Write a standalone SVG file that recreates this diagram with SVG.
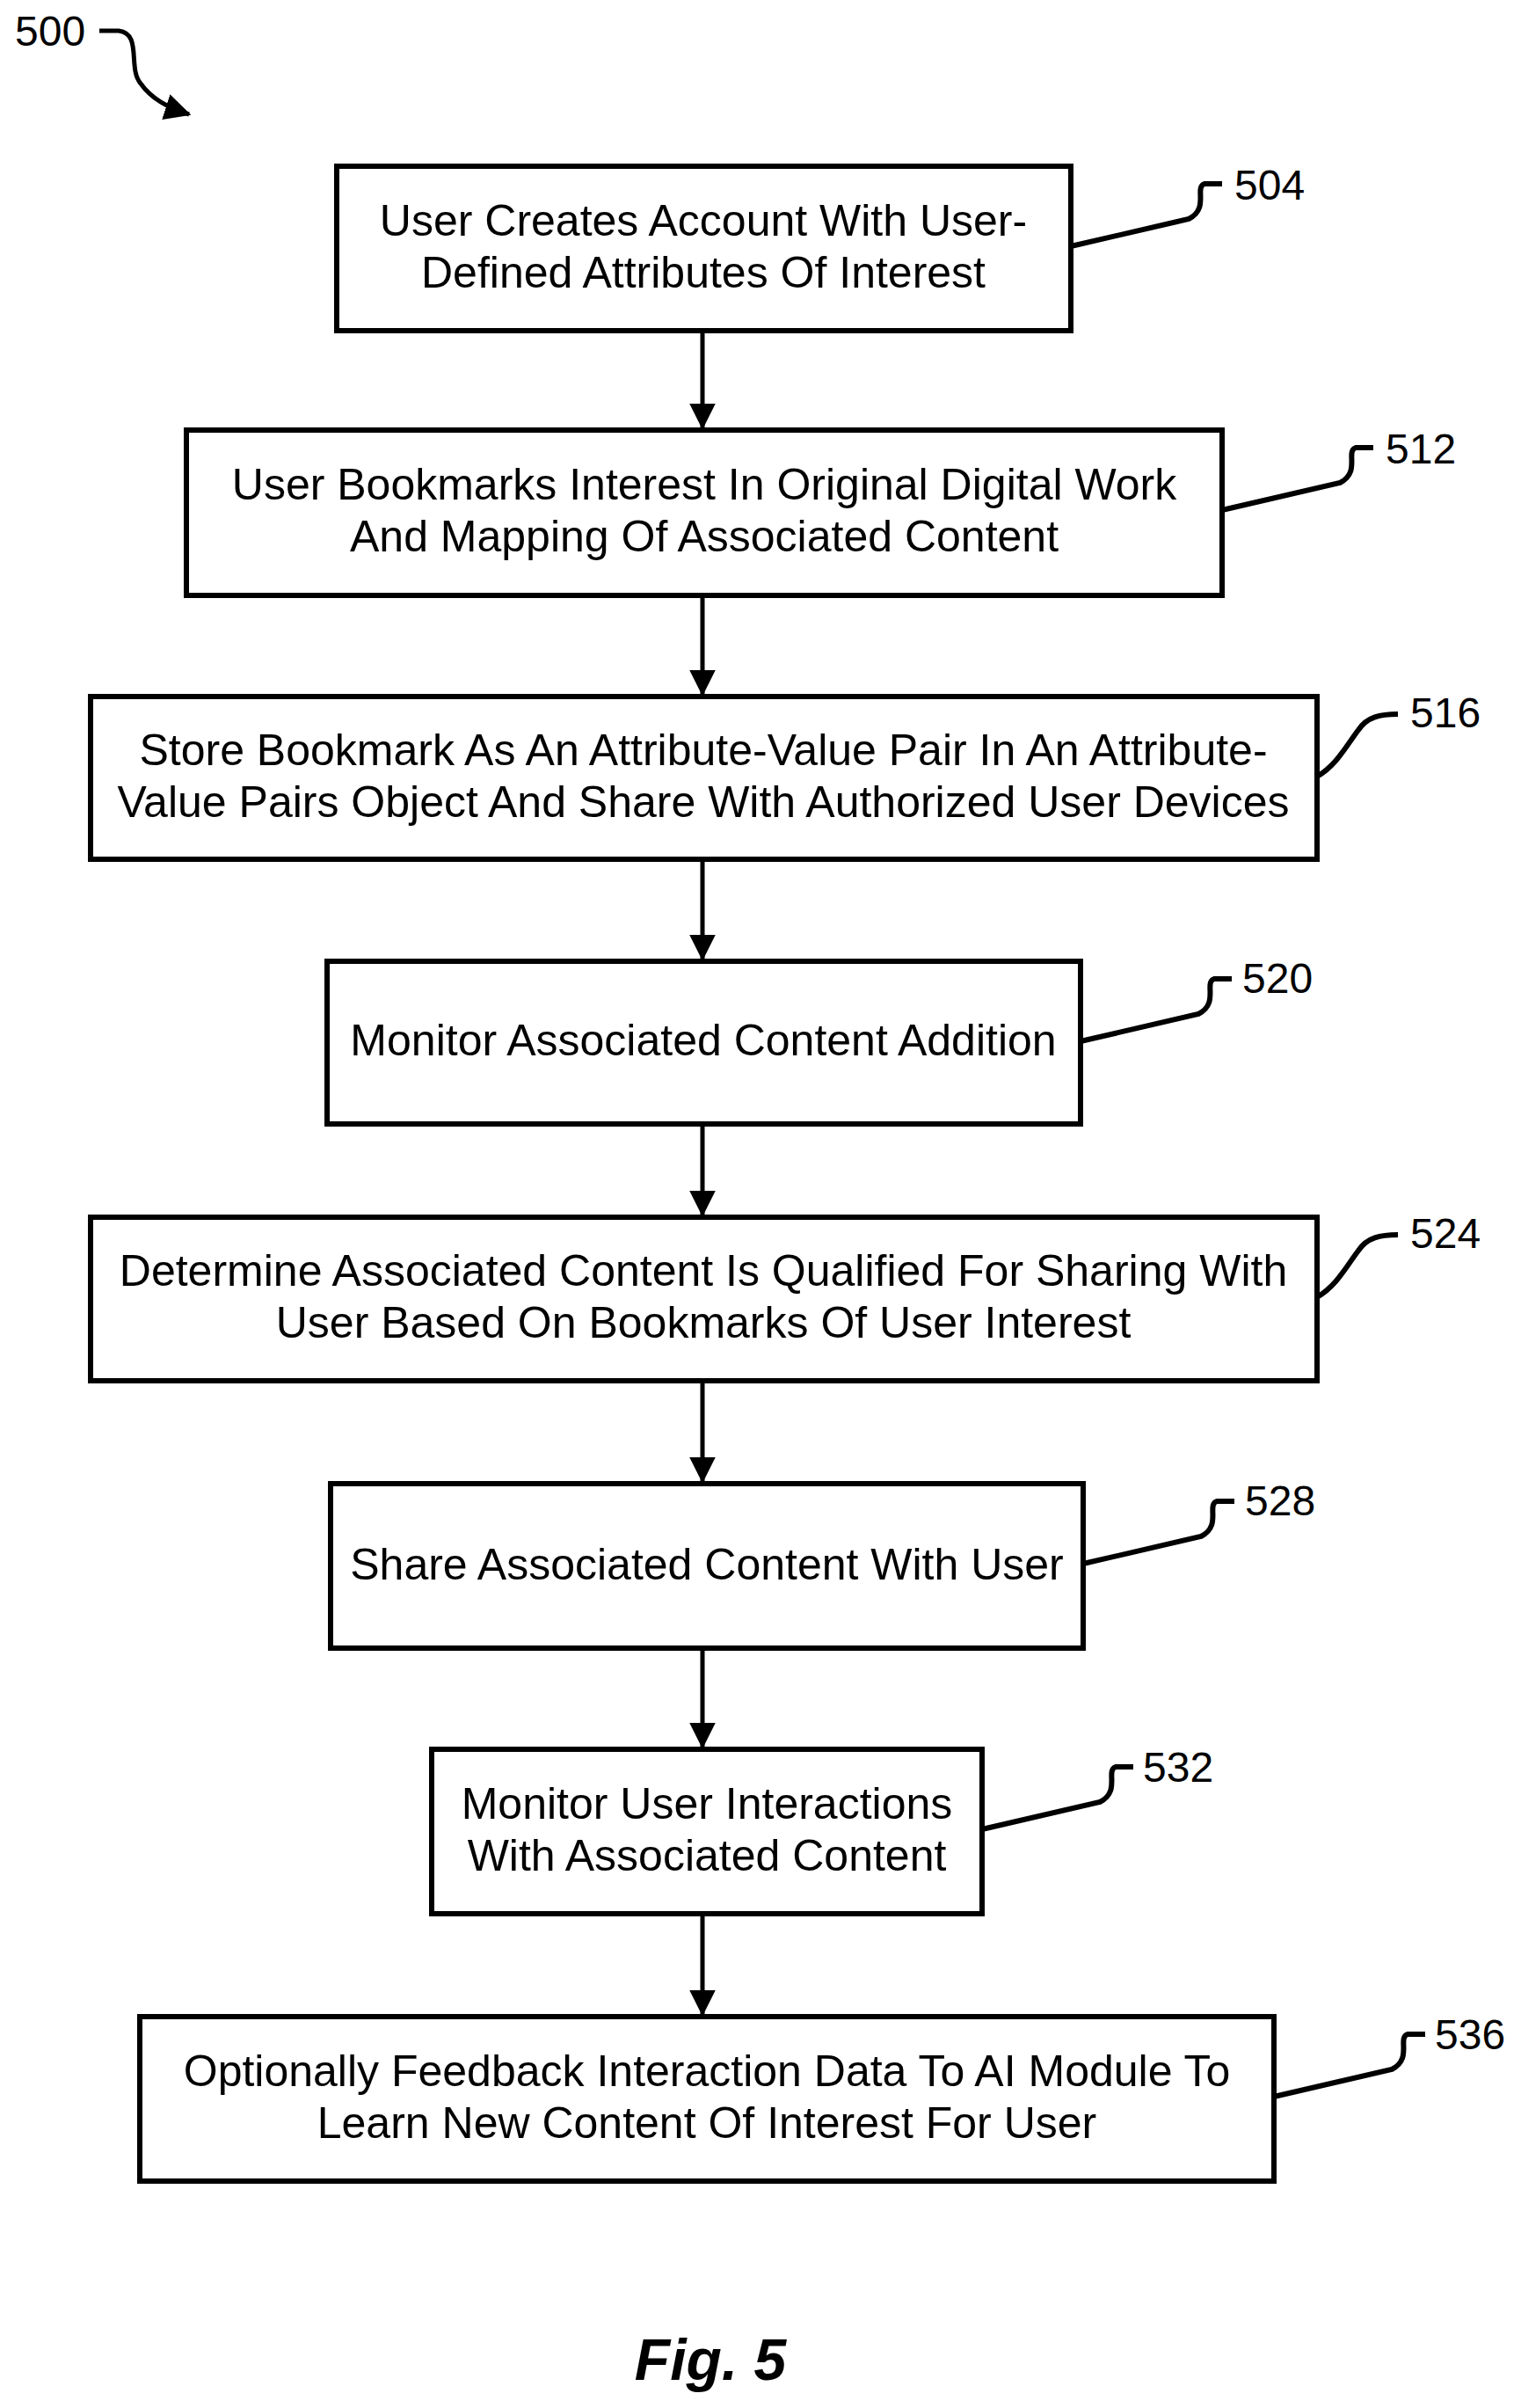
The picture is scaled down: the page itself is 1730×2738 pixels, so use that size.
<svg xmlns="http://www.w3.org/2000/svg" width="1730" height="2738" viewBox="0 0 1730 2738">
<defs>
<style>
rect{fill:#fff;stroke:#000;stroke-width:6}
text{font-family:"Liberation Sans",Arial,sans-serif;font-size:50px;fill:#000}
.n{font-size:48px}
.c{text-anchor:middle}
.l{fill:none;stroke:#000;stroke-width:6}
.a{fill:none;stroke:#000;stroke-width:5;marker-end:url(#ah)}
</style>
<marker id="ah" markerWidth="6" markerHeight="10" refX="5.5" refY="3" orient="auto" markerUnits="strokeWidth" viewBox="0 0 6 6"><path d="M0,0 L6,3 L0,6 z" fill="#000"/></marker>
</defs>
<g id="ref500"><text class="n" x="17" y="52">500</text><path class="a" d="M113,35 L135,35 C162,38 145,78 160,95 C172,112 190,122 215,130"/></g>
<g id="connectors">
<path class="a" d="M799,377 L799,486"/>
<path class="a" d="M799,677 L799,789"/>
<path class="a" d="M799,977 L799,1090"/>
<path class="a" d="M799,1278 L799,1381"/>
<path class="a" d="M799,1570 L799,1684"/>
<path class="a" d="M799,1874 L799,1986"/>
<path class="a" d="M799,2176 L799,2290"/>
</g>
<g id="n504"><rect x="383" y="189" width="835" height="187"/><text class="c" x="800" y="268">User Creates Account With User-</text><text class="c" x="800" y="327">Defined Attributes Of Interest</text><path class="l" d="M1218,280 L1352,249 C1376,237 1358,213 1370,209 L1390,209"/><text class="n" x="1404" y="227">504</text></g>
<g id="n512"><rect x="212" y="489" width="1178" height="188"/><text class="c" x="801" y="568">User Bookmarks Interest In Original Digital Work</text><text class="c" x="801" y="627">And Mapping Of Associated Content</text><path class="l" d="M1390,580 L1524,549 C1548,537 1530,513 1542,509 L1562,509"/><text class="n" x="1576" y="527">512</text></g>
<g id="n516"><rect x="103" y="792" width="1395" height="185"/><text class="c" x="800" y="870">Store Bookmark As An Attribute-Value Pair In An Attribute-</text><text class="c" x="800" y="929">Value Pairs Object And Share With Authorized User Devices</text><path class="l" d="M1498,883 C1520,870 1530,850 1545,830 C1555,815 1570,812 1590,812"/><text class="n" x="1604" y="827">516</text></g>
<g id="n520"><rect x="372" y="1093" width="857" height="185"/><text class="c" x="800" y="1200">Monitor Associated Content Addition</text><path class="l" d="M1229,1184 L1363,1153 C1387,1141 1369,1117 1381,1113 L1401,1113"/><text class="n" x="1413" y="1129">520</text></g>
<g id="n524"><rect x="103" y="1384" width="1395" height="186"/><text class="c" x="800" y="1462">Determine Associated Content Is Qualified For Sharing With</text><text class="c" x="800" y="1521">User Based On Bookmarks Of User Interest</text><path class="l" d="M1498,1475 C1520,1462 1530,1442 1545,1422 C1555,1407 1570,1404 1590,1404"/><text class="n" x="1604" y="1419">524</text></g>
<g id="n528"><rect x="376" y="1687" width="856" height="187"/><text class="c" x="804" y="1796">Share Associated Content With User</text><path class="l" d="M1232,1778 L1366,1747 C1390,1735 1372,1711 1384,1707 L1404,1707"/><text class="n" x="1416" y="1723">528</text></g>
<g id="n532"><rect x="491" y="1989" width="626" height="187"/><text class="c" x="804" y="2068">Monitor User Interactions</text><text class="c" x="804" y="2127">With Associated Content</text><path class="l" d="M1117,2080 L1251,2049 C1275,2037 1257,2013 1269,2009 L1289,2009"/><text class="n" x="1300" y="2026">532</text></g>
<g id="n536"><rect x="159" y="2293" width="1290" height="187"/><text class="c" x="804" y="2372">Optionally Feedback Interaction Data To AI Module To</text><text class="c" x="804" y="2431">Learn New Content Of Interest For User</text><path class="l" d="M1449,2384 L1583,2353 C1607,2341 1589,2317 1601,2313 L1621,2313"/><text class="n" x="1632" y="2330">536</text></g>
<text class="c" x="808" y="2706" style="font-size:66px;font-weight:bold;font-style:italic">Fig. 5</text>
</svg>
